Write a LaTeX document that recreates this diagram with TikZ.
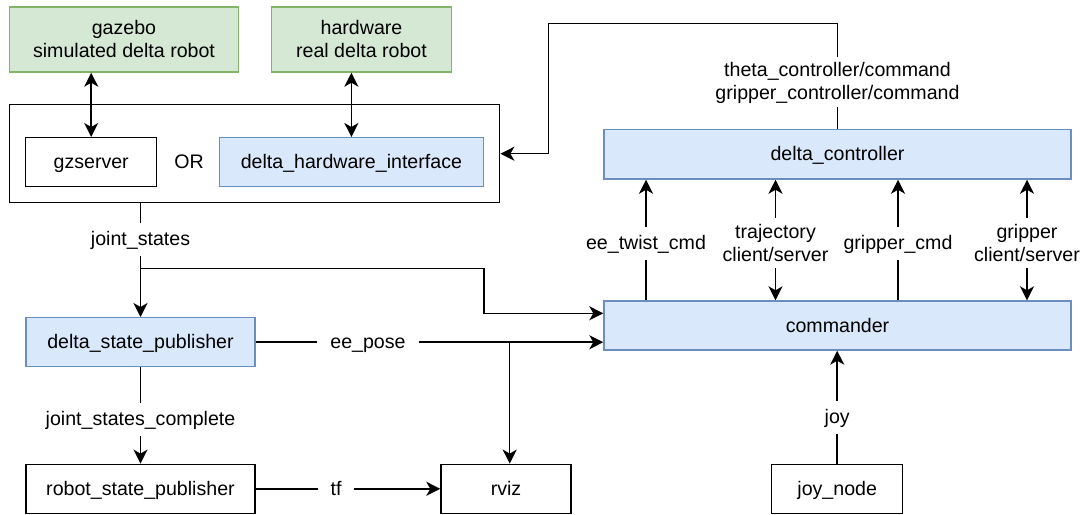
\documentclass[tikz,border=0pt]{standalone}
\usepackage{fontspec}
\setmainfont{Liberation Sans}
\usetikzlibrary{arrows.meta,calc}
\definecolor{gfill}{HTML}{D5E8D4}
\definecolor{gline}{HTML}{82B366}
\definecolor{bfill}{HTML}{DAE8FC}
\definecolor{bline}{HTML}{6C8EBF}
\begin{document}
\begin{tikzpicture}[x=1pt,y=-1pt,
  txt/.style={font=\fontsize{19.6}{23}\selectfont, align=center, text height=16pt, text depth=3pt},
  twoline/.style={text height=39pt, text depth=3pt},
  box/.style={txt, draw, line width=1.4pt, inner sep=0pt},
  wbox/.style={box, draw=black, fill=white},
  gbox/.style={box, draw=gline, fill=gfill},
  bbox/.style={box, draw=bline, fill=bfill},
  lab/.style={txt, fill=white, inner xsep=13pt, inner ysep=7pt},
  labb/.style={lab, twoline, inner ysep=4pt},
  conn/.style={line width=1.5pt, draw=black},
  arr/.style={conn, -{Stealth[length=14pt, width=14pt, inset=4pt]}},
  biarr/.style={conn, {Stealth[length=14pt, width=14pt, inset=4pt]}-{Stealth[length=14pt, width=14pt, inset=4pt]}}
]
\useasboundingbox (0,0) rectangle (1081,514);

% boxes
\node[gbox, twoline, minimum width=229pt, minimum height=65pt] (gazebo) at (124,39.5) {gazebo\\simulated delta robot};
\node[gbox, twoline, minimum width=180pt, minimum height=65pt] (hardware) at (361.5,39.5) {hardware\\real delta robot};
\node[draw, line width=1.4pt, minimum width=490.4pt, minimum height=98pt, inner sep=0pt] (outer) at (254.5,153.7) {};
\node[wbox, minimum width=131pt, minimum height=49pt] (gzserver) at (91.2,162.2) {gzserver};
\node[bbox, minimum width=263.8pt, minimum height=49pt] (dhi) at (351.4,162.2) {delta\_hardware\_interface};
\node[txt, inner sep=0pt] (or) at (189,162.2) {OR};
\node[bbox, minimum width=467pt, minimum height=49.7pt] (dc) at (837.5,154.2) {delta\_controller};
\node[bbox, minimum width=467pt, minimum height=49pt] (cmd) at (837.5,325.5) {commander};
\node[bbox, minimum width=229.3pt, minimum height=49pt] (dsp) at (140.5,342.2) {delta\_state\_publisher};
\node[wbox, minimum width=229.3pt, minimum height=49pt] (rsp) at (140.5,488.8) {robot\_state\_publisher};
\node[wbox, minimum width=130pt, minimum height=49pt] (rviz) at (506,488.8) {rviz};
\node[wbox, minimum width=131pt, minimum height=49pt] (joy) at (837.2,488.8) {joy\_node};

% helper coordinates
\coordinate (j1) at (140.5,268.3);
\coordinate (j2) at (483.8,268.3);
\coordinate (p1) at (0,313.3);
\coordinate (br) at (509.7,342.2);
\coordinate (fb1) at (837.5,23.3);
\coordinate (fb2) at (548.3,23.3);
\coordinate (fb3) at (548.3,153.7);
\coordinate (a1) at (646,0);
\coordinate (a2) at (775.5,0);
\coordinate (a3) at (898,0);
\coordinate (a4) at (1027,0);

% connectors
\draw[biarr] (gzserver.north |- gazebo.south) -- (gzserver.north);
\draw[biarr] (dhi.north |- hardware.south) -- (dhi.north);

\draw[arr] (outer.south -| dsp.north) -- (dsp.north);
\draw[arr] (j1) -- (j2) -- (j2 |- p1) -- (cmd.west |- p1);
\node[lab] (ljs) at (140.5,239) {joint\_states};

\draw[arr] (dsp.east) -- (cmd.west |- dsp.east);
\draw[arr] (br) -- (br |- rviz.north);
\node[lab] (lee) at (368,342.2) {ee\_pose};

\draw[arr] (dsp.south) -- (rsp.north);
\node[lab] (ljsc) at (140.5,419.3) {joint\_states\_complete};

\draw[arr] (rsp.east) -- (rviz.west);
\node[lab] (ltf) at (336,488.8) {tf};

\draw[arr] (joy.north) -- (joy.north |- cmd.south);
\node[lab] (ljoy) at (837.2,417) {joy};

\draw[arr] (a1 |- cmd.north) -- (a1 |- dc.south);
\draw[biarr] (a2 |- cmd.north) -- (a2 |- dc.south);
\draw[arr] (a3 |- cmd.north) -- (a3 |- dc.south);
\draw[biarr] (a4 |- cmd.north) -- (a4 |- dc.south);
\node[lab] (l1) at (646,243) {ee\_twist\_cmd};
\node[labb] (l2) at (775.5,243) {trajectory\\client/server};
\node[lab] (l3) at (898,243) {gripper\_cmd};
\node[labb] (l4) at (1027,243) {gripper\\client/server};

\draw[arr] (dc.north) -- (fb1) -- (fb2) -- (fb3) -- (outer.east);
\node[labb] (ltheta) at (837.5,81.5) {theta\_controller/command\\gripper\_controller/command};
\end{tikzpicture}
\end{document}
